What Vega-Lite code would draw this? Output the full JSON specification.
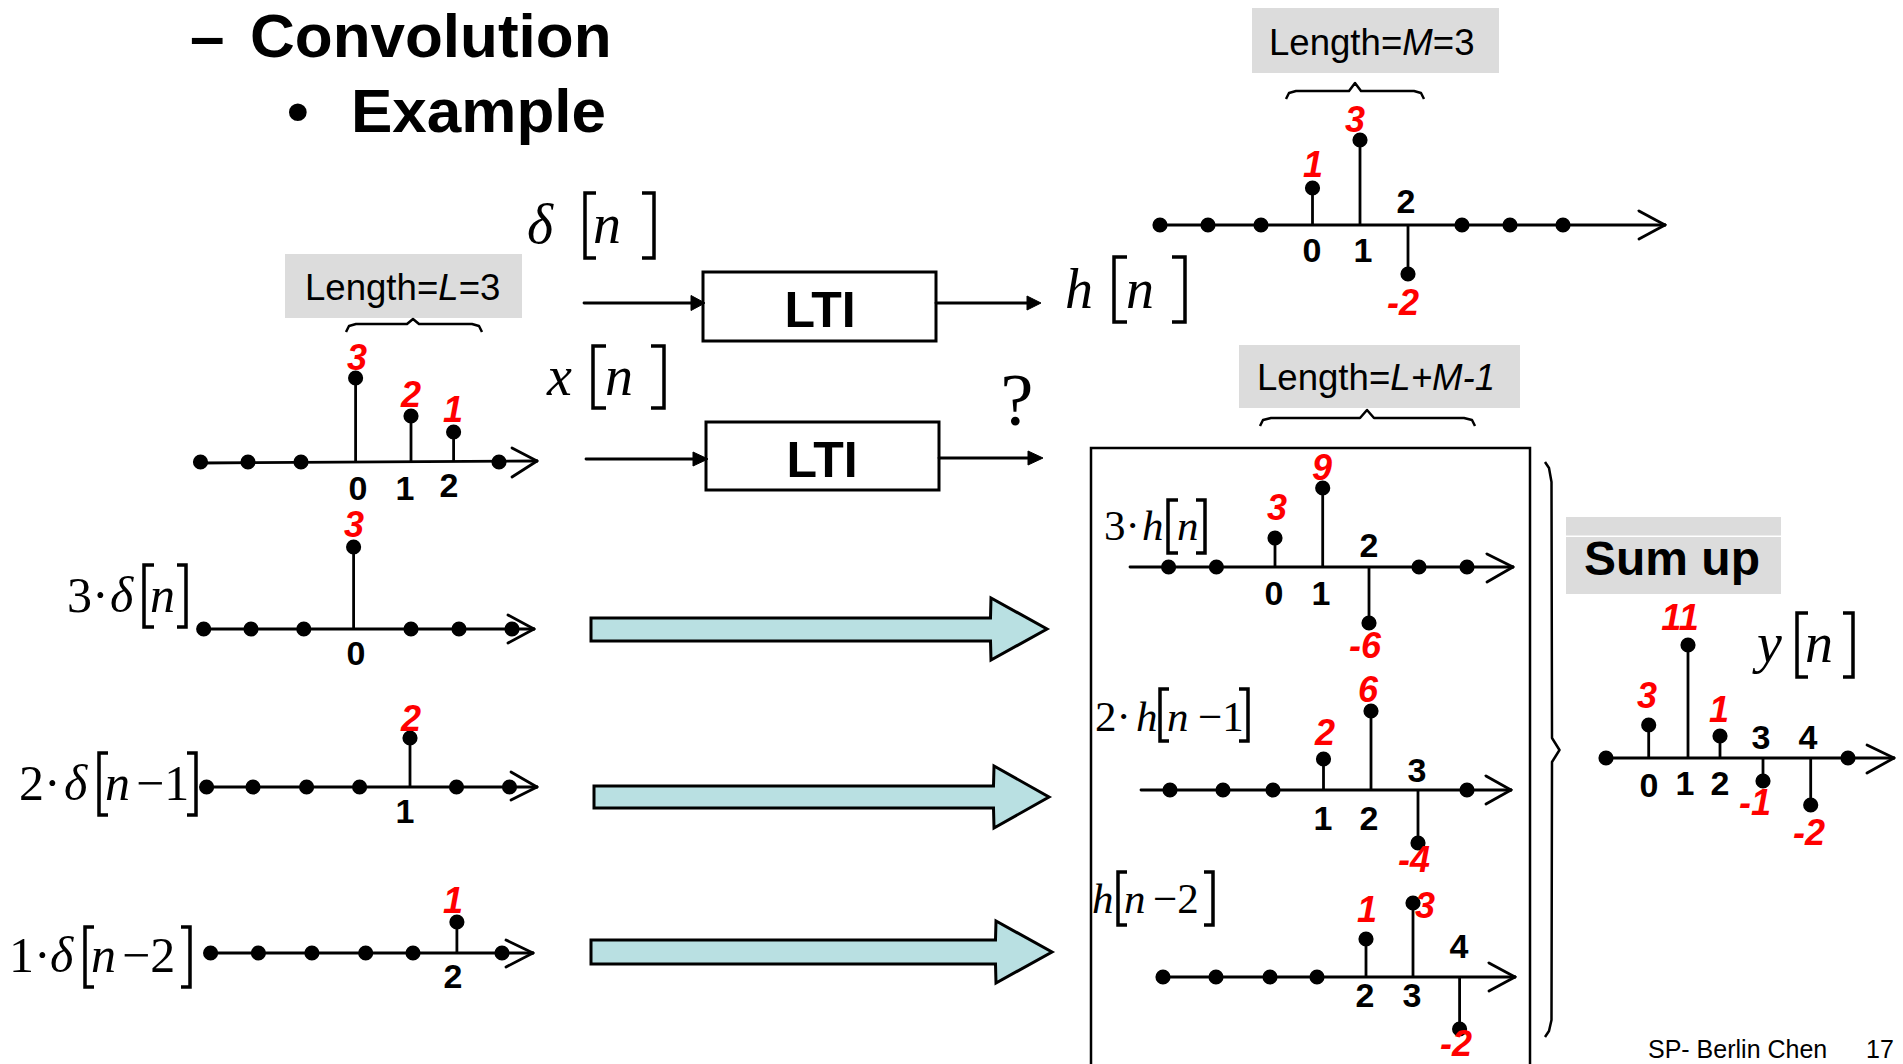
{
"$schema":"https://vega.github.io/schema/vega-lite/v6.json",
"width":1903,"height":1064,"autosize":"none","padding":0,"background":"white",
"config":{"view":{"stroke":null}},
"datasets":{
"gray":[{"x":1252,"x2":1499,"y":8,"y2":73},{"x":285,"x2":522,"y":254,"y2":318},{"x":1239,"x2":1520,"y":345,"y2":408},{"x":1566,"x2":1781,"y":517,"y2":535.5},{"x":1566,"x2":1781,"y":537,"y2":594}],
"lti":[{"x":703,"x2":936,"y":272,"y2":341},{"x":706,"x2":939,"y":422,"y2":490}],
"frame":[{"x":1091,"x2":1530,"y":448,"y2":1080}],
"arrows":[
{"id":"a1","x":591,"y":618,"y2":641},{"id":"a1","x":990.5,"y":618,"y2":641},{"id":"a1","x":991,"y":598,"y2":660},{"id":"a1","x":1047,"y":629,"y2":629},
{"id":"a2","x":594,"y":786,"y2":808},{"id":"a2","x":993.5,"y":786,"y2":808},{"id":"a2","x":994,"y":766,"y2":828},{"id":"a2","x":1049,"y":797,"y2":797},
{"id":"a3","x":591,"y":940,"y2":964},{"id":"a3","x":995.5,"y":940,"y2":964},{"id":"a3","x":996,"y":921,"y2":983},{"id":"a3","x":1052,"y":952,"y2":952}],
"heads":[
{"id":"h1","x":691,"y":295.5,"y2":310.5},{"id":"h1","x":705,"y":303,"y2":303},
{"id":"h2","x":1027,"y":296,"y2":310},{"id":"h2","x":1041,"y":303,"y2":303},
{"id":"h3","x":693,"y":452,"y2":466},{"id":"h3","x":708,"y":459,"y2":459},
{"id":"h4","x":1028,"y":451,"y2":465},{"id":"h4","x":1043,"y":458,"y2":458}],
"segs":[
{"x":1160,"y":225,"x2":1665,"y2":225},{"x":200,"y":463,"x2":537,"y2":461},{"x":204,"y":629,"x2":534,"y2":629},{"x":207,"y":787,"x2":537,"y2":787},{"x":211,"y":953,"x2":533,"y2":953},{"x":1130,"y":567,"x2":1513,"y2":567},{"x":1141,"y":790,"x2":1511,"y2":790},{"x":1163,"y":977,"x2":1515,"y2":977},{"x":1606,"y":758,"x2":1894,"y2":758},
{"x":1665,"y":225,"x2":1639,"y2":211},{"x":1665,"y":225,"x2":1639,"y2":239},
{"x":537,"y":461,"x2":512,"y2":448},{"x":537,"y":461,"x2":512,"y2":477},
{"x":534,"y":629,"x2":508,"y2":615},{"x":534,"y":629,"x2":508,"y2":643},
{"x":537,"y":787,"x2":511,"y2":772},{"x":537,"y":787,"x2":511,"y2":800},
{"x":533,"y":953,"x2":506,"y2":940},{"x":533,"y":953,"x2":506,"y2":967},
{"x":1513,"y":567,"x2":1487,"y2":554},{"x":1513,"y":567,"x2":1487,"y2":582},
{"x":1511,"y":790,"x2":1486,"y2":776},{"x":1511,"y":790,"x2":1486,"y2":804},
{"x":1515,"y":977,"x2":1489,"y2":963},{"x":1515,"y":977,"x2":1489,"y2":991},
{"x":1894,"y":758,"x2":1867,"y2":745},{"x":1894,"y":758,"x2":1867,"y2":773},
{"x":584,"y":303,"x2":692,"y2":303},{"x":936,"y":303,"x2":1028,"y2":303},{"x":586,"y":459,"x2":694,"y2":459},{"x":939,"y":458,"x2":1029,"y2":458}],
"stems":[
{"x":1160,"y":225,"y2":225},{"x":1208,"y":225,"y2":225},{"x":1261,"y":225,"y2":225},{"x":1312.5,"y":225,"y2":188},{"x":1360,"y":225,"y2":140},{"x":1408,"y":225,"y2":274},{"x":1462,"y":225,"y2":225},{"x":1510,"y":225,"y2":225},{"x":1563,"y":225,"y2":225},
{"x":200.5,"y":462,"y2":462},{"x":248,"y":462,"y2":462},{"x":301,"y":462,"y2":462},{"x":355.6,"y":462,"y2":378},{"x":411,"y":462,"y2":416},{"x":453.6,"y":462,"y2":432},{"x":499,"y":462,"y2":462},
{"x":203.7,"y":629,"y2":629},{"x":251,"y":629,"y2":629},{"x":303.8,"y":629,"y2":629},{"x":353.6,"y":629,"y2":547},{"x":411,"y":629,"y2":629},{"x":459,"y":629,"y2":629},{"x":512,"y":629,"y2":629},
{"x":206.6,"y":787,"y2":787},{"x":253,"y":787,"y2":787},{"x":306.6,"y":787,"y2":787},{"x":359.6,"y":787,"y2":787},{"x":410,"y":787,"y2":738},{"x":456.5,"y":787,"y2":787},{"x":509.5,"y":787,"y2":787},
{"x":210.6,"y":953,"y2":953},{"x":258.4,"y":953,"y2":953},{"x":311.9,"y":953,"y2":953},{"x":365.7,"y":953,"y2":953},{"x":413,"y":953,"y2":953},{"x":456.9,"y":953,"y2":922},{"x":502,"y":953,"y2":953},
{"x":1168.6,"y":567,"y2":567},{"x":1216.4,"y":567,"y2":567},{"x":1275,"y":567,"y2":538},{"x":1322.7,"y":567,"y2":488},{"x":1369,"y":567,"y2":623},{"x":1419,"y":567,"y2":567},{"x":1467,"y":567,"y2":567},
{"x":1170,"y":790,"y2":790},{"x":1223,"y":790,"y2":790},{"x":1273,"y":790,"y2":790},{"x":1323.5,"y":790,"y2":759},{"x":1371,"y":790,"y2":711},{"x":1418,"y":790,"y2":843},{"x":1467,"y":790,"y2":790},
{"x":1163,"y":977,"y2":977},{"x":1216,"y":977,"y2":977},{"x":1270,"y":977,"y2":977},{"x":1317,"y":977,"y2":977},{"x":1366,"y":977,"y2":939},{"x":1413,"y":977,"y2":903},{"x":1459.6,"y":977,"y2":1029},
{"x":1606,"y":758,"y2":758},{"x":1648.7,"y":758,"y2":725},{"x":1688,"y":758,"y2":645},{"x":1720,"y":758,"y2":736},{"x":1763,"y":758,"y2":781},{"x":1810.7,"y":758,"y2":805},{"x":1848,"y":758,"y2":758}],
"braces":[
{"id":"b1","s":1,"x":346,"y":332},{"id":"b1","s":2,"x":349,"y":326},{"id":"b1","s":3,"x":356,"y":324},{"id":"b1","s":4,"x":407,"y":324},{"id":"b1","s":5,"x":413,"y":319},{"id":"b1","s":6,"x":419,"y":324},{"id":"b1","s":7,"x":472,"y":324},{"id":"b1","s":8,"x":479,"y":326},{"id":"b1","s":9,"x":482,"y":332},
{"id":"b2","s":1,"x":1286,"y":99},{"id":"b2","s":2,"x":1289,"y":93},{"id":"b2","s":3,"x":1296,"y":91},{"id":"b2","s":4,"x":1349,"y":91},{"id":"b2","s":5,"x":1355,"y":83},{"id":"b2","s":6,"x":1361,"y":91},{"id":"b2","s":7,"x":1414,"y":91},{"id":"b2","s":8,"x":1421,"y":93},{"id":"b2","s":9,"x":1424,"y":99},
{"id":"b3","s":1,"x":1260,"y":426},{"id":"b3","s":2,"x":1263,"y":420},{"id":"b3","s":3,"x":1271,"y":418},{"id":"b3","s":4,"x":1360,"y":418},{"id":"b3","s":5,"x":1367,"y":410},{"id":"b3","s":6,"x":1374,"y":418},{"id":"b3","s":7,"x":1464,"y":418},{"id":"b3","s":8,"x":1472,"y":420},{"id":"b3","s":9,"x":1475,"y":426},
{"id":"b4","s":1,"x":1545,"y":462},{"id":"b4","s":2,"x":1549,"y":468},{"id":"b4","s":3,"x":1551.5,"y":482},{"id":"b4","s":4,"x":1552,"y":738},{"id":"b4","s":5,"x":1559.5,"y":750},{"id":"b4","s":6,"x":1552,"y":762},{"id":"b4","s":7,"x":1551.5,"y":1020},{"id":"b4","s":8,"x":1549,"y":1031},{"id":"b4","s":9,"x":1545,"y":1037}],
"brackets":[
{"id":"k1","s":1,"x":596,"y":193},{"id":"k1","s":2,"x":585,"y":193},{"id":"k1","s":3,"x":585,"y":258},{"id":"k1","s":4,"x":596,"y":258},
{"id":"k2","s":1,"x":642,"y":193},{"id":"k2","s":2,"x":654,"y":193},{"id":"k2","s":3,"x":654,"y":258},{"id":"k2","s":4,"x":642,"y":258},
{"id":"k3","s":1,"x":1127,"y":257},{"id":"k3","s":2,"x":1114,"y":257},{"id":"k3","s":3,"x":1114,"y":322},{"id":"k3","s":4,"x":1127,"y":322},
{"id":"k4","s":1,"x":1172,"y":257},{"id":"k4","s":2,"x":1185,"y":257},{"id":"k4","s":3,"x":1185,"y":322},{"id":"k4","s":4,"x":1172,"y":322},
{"id":"k5","s":1,"x":606,"y":346},{"id":"k5","s":2,"x":593,"y":346},{"id":"k5","s":3,"x":593,"y":408},{"id":"k5","s":4,"x":606,"y":408},
{"id":"k6","s":1,"x":651,"y":346},{"id":"k6","s":2,"x":664,"y":346},{"id":"k6","s":3,"x":664,"y":408},{"id":"k6","s":4,"x":651,"y":408},
{"id":"k7","s":1,"x":1808,"y":613},{"id":"k7","s":2,"x":1797,"y":613},{"id":"k7","s":3,"x":1797,"y":677},{"id":"k7","s":4,"x":1808,"y":677},
{"id":"k8","s":1,"x":1843,"y":613},{"id":"k8","s":2,"x":1853,"y":613},{"id":"k8","s":3,"x":1853,"y":677},{"id":"k8","s":4,"x":1843,"y":677},
{"id":"k9","s":1,"x":154,"y":565},{"id":"k9","s":2,"x":144,"y":565},{"id":"k9","s":3,"x":144,"y":627},{"id":"k9","s":4,"x":154,"y":627},
{"id":"k10","s":1,"x":177,"y":565},{"id":"k10","s":2,"x":186,"y":565},{"id":"k10","s":3,"x":186,"y":627},{"id":"k10","s":4,"x":177,"y":627},
{"id":"k11","s":1,"x":108,"y":753},{"id":"k11","s":2,"x":99,"y":753},{"id":"k11","s":3,"x":99,"y":815},{"id":"k11","s":4,"x":108,"y":815},
{"id":"k12","s":1,"x":187,"y":753},{"id":"k12","s":2,"x":196,"y":753},{"id":"k12","s":3,"x":196,"y":815},{"id":"k12","s":4,"x":187,"y":815},
{"id":"k13","s":1,"x":94,"y":927},{"id":"k13","s":2,"x":85,"y":927},{"id":"k13","s":3,"x":85,"y":987},{"id":"k13","s":4,"x":94,"y":987},
{"id":"k14","s":1,"x":181,"y":927},{"id":"k14","s":2,"x":190,"y":927},{"id":"k14","s":3,"x":190,"y":987},{"id":"k14","s":4,"x":181,"y":987},
{"id":"k15","s":1,"x":1178,"y":500},{"id":"k15","s":2,"x":1168,"y":500},{"id":"k15","s":3,"x":1168,"y":553},{"id":"k15","s":4,"x":1178,"y":553},
{"id":"k16","s":1,"x":1196,"y":500},{"id":"k16","s":2,"x":1205,"y":500},{"id":"k16","s":3,"x":1205,"y":553},{"id":"k16","s":4,"x":1196,"y":553},
{"id":"k17","s":1,"x":1169,"y":689},{"id":"k17","s":2,"x":1160,"y":689},{"id":"k17","s":3,"x":1160,"y":741},{"id":"k17","s":4,"x":1169,"y":741},
{"id":"k18","s":1,"x":1239,"y":689},{"id":"k18","s":2,"x":1248,"y":689},{"id":"k18","s":3,"x":1248,"y":741},{"id":"k18","s":4,"x":1239,"y":741},
{"id":"k19","s":1,"x":1127,"y":872},{"id":"k19","s":2,"x":1118,"y":872},{"id":"k19","s":3,"x":1118,"y":925},{"id":"k19","s":4,"x":1127,"y":925},
{"id":"k20","s":1,"x":1204,"y":872},{"id":"k20","s":2,"x":1213,"y":872},{"id":"k20","s":3,"x":1213,"y":925},{"id":"k20","s":4,"x":1204,"y":925}],
"texts":[
{"g":"ti","x":190,"y":57,"t":"–"},{"g":"ti","x":250,"y":57,"t":"Convolution"},{"g":"ti","x":287,"y":132,"t":"•"},{"g":"ti","x":351,"y":132,"t":"Example"},
{"g":"lti","x":820,"y":327,"t":"LTI"},{"g":"lti","x":822,"y":477,"t":"LTI"},
{"g":"sum","x":1584,"y":575,"t":"Sum up"},
{"g":"lenr","x":1269,"y":55,"t":"Length="},{"g":"lenr","x":1432.8,"y":55,"t":"=3"},{"g":"lenr","x":305,"y":300,"t":"Length="},{"g":"lenr","x":458.7,"y":300,"t":"=3"},{"g":"lenr","x":1257,"y":390,"t":"Length="},
{"g":"leni","x":1402.3,"y":55,"t":"M"},{"g":"leni","x":438.3,"y":300,"t":"L"},{"g":"leni","x":1390.3,"y":390,"t":"L+M-1"},
{"g":"red","x":1313,"y":177,"t":"1"},{"g":"red","x":1355,"y":132,"t":"3"},{"g":"red","x":1403,"y":315,"t":"-2"},
{"g":"red","x":357,"y":370,"t":"3"},{"g":"red","x":411,"y":407,"t":"2"},{"g":"red","x":453,"y":422,"t":"1"},
{"g":"red","x":354,"y":537,"t":"3"},{"g":"red","x":411,"y":731,"t":"2"},{"g":"red","x":453,"y":913,"t":"1"},
{"g":"red","x":1277,"y":520,"t":"3"},{"g":"red","x":1322,"y":480,"t":"9"},{"g":"red","x":1365,"y":658,"t":"-6"},
{"g":"red","x":1325,"y":745,"t":"2"},{"g":"red","x":1368,"y":702,"t":"6"},{"g":"red","x":1414,"y":872,"t":"-4"},
{"g":"red","x":1367,"y":922,"t":"1"},{"g":"red","x":1425,"y":918,"t":"3"},{"g":"red","x":1456,"y":1056,"t":"-2"},
{"g":"red","x":1680,"y":630,"t":"11"},{"g":"red","x":1647,"y":708,"t":"3"},{"g":"red","x":1719,"y":722,"t":"1"},{"g":"red","x":1755,"y":815,"t":"-1"},{"g":"red","x":1809,"y":845,"t":"-2"},
{"g":"idx","x":1312,"y":262,"t":"0"},{"g":"idx","x":1363,"y":262,"t":"1"},{"g":"idx","x":1406,"y":213,"t":"2"},
{"g":"idx","x":358,"y":500,"t":"0"},{"g":"idx","x":405,"y":500,"t":"1"},{"g":"idx","x":449,"y":497,"t":"2"},
{"g":"idx","x":356,"y":665,"t":"0"},{"g":"idx","x":405,"y":823,"t":"1"},{"g":"idx","x":453,"y":988,"t":"2"},
{"g":"idx","x":1274,"y":605,"t":"0"},{"g":"idx","x":1321,"y":605,"t":"1"},{"g":"idx","x":1369,"y":557,"t":"2"},
{"g":"idx","x":1323,"y":830,"t":"1"},{"g":"idx","x":1369,"y":830,"t":"2"},{"g":"idx","x":1417,"y":782,"t":"3"},
{"g":"idx","x":1365,"y":1007,"t":"2"},{"g":"idx","x":1412,"y":1007,"t":"3"},{"g":"idx","x":1459,"y":958,"t":"4"},
{"g":"idx","x":1649,"y":797,"t":"0"},{"g":"idx","x":1685,"y":795,"t":"1"},{"g":"idx","x":1720,"y":795,"t":"2"},{"g":"idx","x":1761,"y":749,"t":"3"},{"g":"idx","x":1808,"y":749,"t":"4"},
{"g":"it56","x":527,"y":243,"t":"δ"},{"g":"it56","x":593,"y":243,"t":"n"},{"g":"it56","x":1065,"y":308,"t":"h"},{"g":"it56","x":1126,"y":308,"t":"n"},{"g":"it56","x":547,"y":395,"t":"x"},{"g":"it56","x":605,"y":395,"t":"n"},{"g":"it56","x":1757,"y":662,"t":"y"},{"g":"it56","x":1805,"y":662,"t":"n"},
{"g":"it50","x":110,"y":612,"t":"δ"},{"g":"it50","x":150,"y":612,"t":"n"},{"g":"it50","x":64,"y":800,"t":"δ"},{"g":"it50","x":105,"y":800,"t":"n"},{"g":"it50","x":50,"y":972,"t":"δ"},{"g":"it50","x":91,"y":972,"t":"n"},
{"g":"up50","x":67,"y":612,"t":"3·"},{"g":"up50","x":19,"y":800,"t":"2·"},{"g":"up50","x":136,"y":800,"t":"−1"},{"g":"up50","x":9,"y":972,"t":"1·"},{"g":"up50","x":122,"y":972,"t":"−2"},
{"g":"it43","x":1142,"y":540,"t":"h"},{"g":"it43","x":1177,"y":540,"t":"n"},{"g":"it43","x":1136,"y":731,"t":"h"},{"g":"it43","x":1167,"y":731,"t":"n"},{"g":"it43","x":1092,"y":913,"t":"h"},{"g":"it43","x":1124,"y":913,"t":"n"},
{"g":"up43","x":1104,"y":540,"t":"3·"},{"g":"up43","x":1095,"y":731,"t":"2·"},{"g":"up43","x":1198,"y":731,"t":"−1"},{"g":"up43","x":1153,"y":913,"t":"−2"},
{"g":"q","x":1017,"y":425,"t":"?"},
{"g":"foot","x":1648,"y":1058,"t":"SP- Berlin Chen"},{"g":"foot","x":1866,"y":1058,"t":"17"}]
},
"encoding":{
"x":{"field":"x","type":"quantitative","scale":{"domain":[0,1903],"nice":false,"zero":false},"axis":null},
"y":{"field":"y","type":"quantitative","scale":{"domain":[0,1064],"nice":false,"zero":false,"reverse":true},"axis":null}
},
"layer":[
{"data":{"name":"gray"},"mark":{"type":"rect","fill":"#dcdcdc"},"encoding":{"x2":{"field":"x2"},"y2":{"field":"y2"}}},
{"data":{"name":"frame"},"mark":{"type":"rect","fill":"transparent","stroke":"black","strokeWidth":2.5,"clip":true},"encoding":{"x2":{"field":"x2"},"y2":{"field":"y2"}}},
{"data":{"name":"lti"},"mark":{"type":"rect","fill":"white","stroke":"black","strokeWidth":3},"encoding":{"x2":{"field":"x2"},"y2":{"field":"y2"}}},
{"data":{"name":"arrows"},"mark":{"type":"area","fill":"#b9e0e2","fillOpacity":1,"stroke":"black","strokeWidth":3,"strokeJoin":"miter"},"encoding":{"y2":{"field":"y2"},"detail":{"field":"id","type":"nominal"}}},
{"data":{"name":"heads"},"mark":{"type":"area","fill":"black","fillOpacity":1,"stroke":"black","strokeWidth":1},"encoding":{"y2":{"field":"y2"},"detail":{"field":"id","type":"nominal"}}},
{"data":{"name":"segs"},"mark":{"type":"rule","color":"black","strokeWidth":2.8,"strokeCap":"round"},"encoding":{"x2":{"field":"x2"},"y2":{"field":"y2"}}},
{"data":{"name":"stems"},"mark":{"type":"rule","color":"black","strokeWidth":2.8},"encoding":{"y2":{"field":"y2"}}},
{"data":{"name":"stems"},"mark":{"type":"point","filled":true,"color":"black","opacity":1,"size":230},"encoding":{"y":{"field":"y2","type":"quantitative","scale":{"domain":[0,1064],"nice":false,"zero":false,"reverse":true},"axis":null}}},
{"data":{"name":"braces"},"mark":{"type":"line","color":"black","strokeWidth":2.5,"strokeJoin":"round"},"encoding":{"detail":{"field":"id","type":"nominal"},"order":{"field":"s","type":"quantitative"}}},
{"data":{"name":"brackets"},"mark":{"type":"line","color":"black","strokeWidth":3.5,"strokeJoin":"miter"},"encoding":{"detail":{"field":"id","type":"nominal"},"order":{"field":"s","type":"quantitative"}}},
{"data":{"name":"texts"},"transform":[{"filter":"datum.g==='ti'"}],"mark":{"type":"text","font":"Liberation Sans","fontWeight":"bold","fontSize":62,"align":"left","baseline":"alphabetic","color":"black"},"encoding":{"text":{"field":"t"}}},
{"data":{"name":"texts"},"transform":[{"filter":"datum.g==='lti'"}],"mark":{"type":"text","font":"Liberation Sans","fontWeight":"bold","fontSize":50,"align":"center","baseline":"alphabetic","color":"black"},"encoding":{"text":{"field":"t"}}},
{"data":{"name":"texts"},"transform":[{"filter":"datum.g==='sum'"}],"mark":{"type":"text","font":"Liberation Sans","fontWeight":"bold","fontSize":48,"align":"left","baseline":"alphabetic","color":"black"},"encoding":{"text":{"field":"t"}}},
{"data":{"name":"texts"},"transform":[{"filter":"datum.g==='lenr'"}],"mark":{"type":"text","font":"Liberation Sans","fontSize":36.6,"align":"left","baseline":"alphabetic","color":"black"},"encoding":{"text":{"field":"t"}}},
{"data":{"name":"texts"},"transform":[{"filter":"datum.g==='leni'"}],"mark":{"type":"text","font":"Liberation Sans","fontStyle":"italic","fontSize":36.6,"align":"left","baseline":"alphabetic","color":"black"},"encoding":{"text":{"field":"t"}}},
{"data":{"name":"texts"},"transform":[{"filter":"datum.g==='red'"}],"mark":{"type":"text","font":"Liberation Sans","fontWeight":"bold","fontStyle":"italic","fontSize":36,"align":"center","baseline":"alphabetic","color":"#ff0000"},"encoding":{"text":{"field":"t"}}},
{"data":{"name":"texts"},"transform":[{"filter":"datum.g==='idx'"}],"mark":{"type":"text","font":"Liberation Sans","fontWeight":"bold","fontSize":34,"align":"center","baseline":"alphabetic","color":"black"},"encoding":{"text":{"field":"t"}}},
{"data":{"name":"texts"},"transform":[{"filter":"datum.g==='it56'"}],"mark":{"type":"text","font":"Liberation Serif","fontStyle":"italic","fontSize":56,"align":"left","baseline":"alphabetic","color":"black"},"encoding":{"text":{"field":"t"}}},
{"data":{"name":"texts"},"transform":[{"filter":"datum.g==='it50'"}],"mark":{"type":"text","font":"Liberation Serif","fontStyle":"italic","fontSize":50,"align":"left","baseline":"alphabetic","color":"black"},"encoding":{"text":{"field":"t"}}},
{"data":{"name":"texts"},"transform":[{"filter":"datum.g==='up50'"}],"mark":{"type":"text","font":"Liberation Serif","fontSize":50,"align":"left","baseline":"alphabetic","color":"black"},"encoding":{"text":{"field":"t"}}},
{"data":{"name":"texts"},"transform":[{"filter":"datum.g==='it43'"}],"mark":{"type":"text","font":"Liberation Serif","fontStyle":"italic","fontSize":43,"align":"left","baseline":"alphabetic","color":"black"},"encoding":{"text":{"field":"t"}}},
{"data":{"name":"texts"},"transform":[{"filter":"datum.g==='up43'"}],"mark":{"type":"text","font":"Liberation Serif","fontSize":43,"align":"left","baseline":"alphabetic","color":"black"},"encoding":{"text":{"field":"t"}}},
{"data":{"name":"texts"},"transform":[{"filter":"datum.g==='q'"}],"mark":{"type":"text","font":"Liberation Serif","fontSize":74,"align":"center","baseline":"alphabetic","color":"black"},"encoding":{"text":{"field":"t"}}},
{"data":{"name":"texts"},"transform":[{"filter":"datum.g==='foot'"}],"mark":{"type":"text","font":"Liberation Sans","fontSize":25,"align":"left","baseline":"alphabetic","color":"black"},"encoding":{"text":{"field":"t"}}}
]
}
